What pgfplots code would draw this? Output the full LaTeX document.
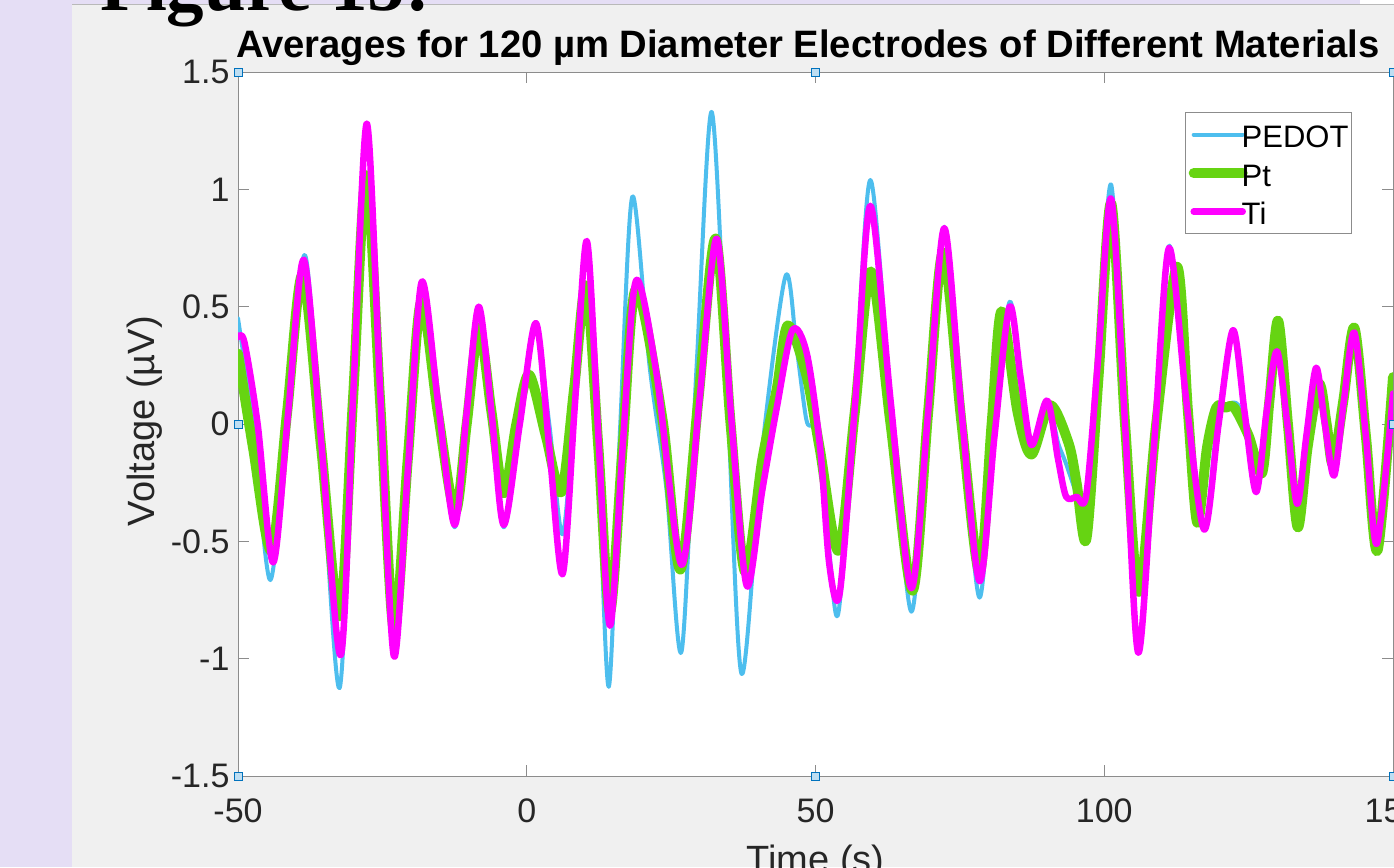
\documentclass[border=0pt]{standalone}
\usepackage{fontspec}
\setmainfont{Liberation Sans}
\newfontfamily\figserif{Liberation Serif}
\usepackage{pgfplots}
\pgfplotsset{compat=1.18}
\definecolor{pedot}{RGB}{77,190,238}
\definecolor{ptc}{RGB}{102,212,18}
\definecolor{tic}{RGB}{255,0,255}
\definecolor{lav}{RGB}{229,222,245}
\definecolor{figgray}{RGB}{240,240,240}
\definecolor{axgray}{RGB}{140,140,140}
\definecolor{tickc}{RGB}{38,38,38}
\definecolor{hdraw}{RGB}{0,114,189}
\definecolor{hfill}{RGB}{190,222,242}
\begin{document}
\begin{tikzpicture}
\useasboundingbox (0pt,0pt) rectangle (1394pt,-867pt);
\clip (0pt,0pt) rectangle (1394pt,-867pt);
\fill[lav] (0pt,0pt) rectangle (1394pt,-867pt);
\fill[white] (1360pt,0pt) rectangle (1394pt,-5pt);
\fill[figgray] (72pt,-5pt) rectangle (1394pt,-867pt);
\draw[gray!55, line width=1pt] (72pt,-5pt) -- (1394pt,-5pt);
\node[anchor=base west, inner sep=0pt, font=\figserif\bfseries\fontsize{75}{80}\selectfont] at (100pt,-11pt) {Figure 15:};
\begin{axis}[
  at={(238pt,-776pt)}, anchor=south west,
  width=1155pt, height=704pt, scale only axis,
  xmin=-50, xmax=150, ymin=-1.5, ymax=1.5,
  axis background/.style={fill=white},
  axis line style={draw=axgray, line width=1pt},
  tick style={draw=axgray, line width=1pt},
  tick align=inside, major tick length=11pt,
  xtick={-50,0,50,100,150}, xticklabels={-50,0,50,100,150},
  ytick={-1.5,-1,-0.5,0,0.5,1,1.5}, yticklabels={-1.5,-1,-0.5,0,0.5,1,1.5},
  ticklabel style={font=\fontsize{34}{40}\selectfont, text=tickc},
  xticklabel style={yshift=-19pt},
  yticklabel style={xshift=-5pt},
  title={Averages for 120 µm Diameter Electrodes of Different Materials},
  title style={font=\bfseries\fontsize{38.2}{44}\selectfont, at={(axis description cs:0.4935,1.0114)}, anchor=base, inner sep=0pt, yshift=0pt},
  xlabel={Time (s)}, ylabel={Voltage (µV)},
  every axis x label/.style={at={(axis description cs:0.5,-0.1364)}, anchor=base, inner sep=0pt, font=\fontsize{38}{44}\selectfont, text=tickc},
  every axis y label/.style={at={(axis description cs:-0.0719,0.504)}, anchor=base, rotate=90, inner sep=0pt, font=\fontsize{38}{44}\selectfont, text=tickc},
  clip mode=individual,
  legend style={at={(axis description cs:0.9645,0.943)}, anchor=north east, draw=axgray, line width=1pt, fill=white,
    font=\fontsize{31}{37}\selectfont, inner xsep=3pt, inner ysep=0pt,
    nodes={inner sep=0pt, text height=35pt, text depth=9pt}, row sep=-5.5pt, column sep=-6pt},
  legend cell align=left,
  legend image code/.code={\path (0pt,0pt) -- (49pt,0pt); \draw[#1, line cap=butt] (5pt,0pt) -- (49pt,0pt);},
]
\addplot[pedot, line width=4pt, smooth, tension=0.5, line join=round, line cap=round] coordinates {
(-50,0.45) (-47.4,0.0) (-44.4,-0.665) (-41.4,0.05) (-38.4,0.72) (-35.5,-0.15) (-32.4,-1.125) (-30.0,0.15) (-27.7,1.27) (-25.4,0.15) (-23.0,-0.99) (-20.6,-0.20) (-18.2,0.60) (-15.4,0.10) (-12.5,-0.44) (-10.4,0.05) (-8.3,0.49) (-6.1,0.05) (-4.0,-0.44) (-1.2,0.0) (1.5,0.42) (3.9,0.0) (6.2,-0.47) (8.3,0.10) (10.4,0.74) (12.3,-0.10) (14.2,-1.12) (16.2,0.0) (18.3,0.97) (21.3,0.24) (24.2,-0.28) (26.8,-0.97) (29.4,0.24) (32.0,1.33) (34.6,0.20) (37.2,-1.065) (40.8,-0.10) (44.8,0.63) (46.7,0.33) (48.4,0.02) (49.5,-0.01) (50.6,-0.08) (52.4,-0.55) (54.0,-0.80) (56.8,0.10) (59.5,1.04) (63.0,0.10) (66.6,-0.80) (69.5,0.05) (72.3,0.84) (75.3,0.05) (78.4,-0.74) (81.0,0.0) (83.6,0.52) (85.5,0.20) (87.4,-0.10) (90.1,0.10) (92.0,-0.08) (93.4,-0.17) (96.2,-0.37) (97.2,-0.40) (99.0,0.30) (101.2,1.02) (103.6,0.0) (105.9,-0.97) (108.6,-0.10) (111.2,0.76) (114.2,0.10) (117.3,-0.44) (119.5,0.0) (120.8,0.07) (122.8,0.09) (124.5,0.02) (126.8,-0.17) (128.3,0.05) (129.9,0.32) (131.7,0.0) (133.4,-0.35) (135.0,-0.05) (136.7,0.24) (138.2,0.0) (139.8,-0.22) (141.5,0.10) (143.3,0.39) (145.3,-0.05) (147.2,-0.50) (150.0,0.14)
};
\addlegendentry{PEDOT}
\addplot[ptc, line width=10pt, smooth, tension=0.5, line join=round, line cap=round] coordinates {
(-50,0.30) (-47.4,-0.10) (-44.2,-0.54) (-41.5,0.05) (-38.8,0.635) (-35.6,-0.10) (-32.4,-0.82) (-30.1,0.10) (-27.8,1.06) (-25.4,0.10) (-23.0,-0.88) (-20.6,-0.15) (-18.3,0.52) (-15.4,0.05) (-12.4,-0.375) (-10.4,0.0) (-8.3,0.41) (-6.1,0.05) (-4.0,-0.295) (-1.8,0.0) (0.4,0.21) (3.3,-0.05) (6.0,-0.29) (8.2,0.15) (10.3,0.59) (12.4,-0.10) (14.4,-0.80) (16.6,-0.10) (18.9,0.575) (23.5,0.02) (26.6,-0.62) (29.7,0.10) (32.7,0.79) (35.3,0.0) (37.8,-0.63) (40.8,-0.15) (43.3,0.15) (45.2,0.42) (48.4,0.21) (50.7,-0.10) (54.0,-0.54) (56.8,0.05) (59.6,0.65) (63.0,0.0) (66.8,-0.71) (69.5,0.05) (72.1,0.73) (75.3,0.0) (78.4,-0.63) (80.5,0.0) (82.2,0.48) (85.0,0.05) (87.4,-0.13) (90.6,0.08) (93.8,-0.08) (95.2,-0.25) (96.9,-0.49) (99.0,0.20) (101.2,0.94) (103.6,0.0) (106.0,-0.715) (109.0,0.0) (112.6,0.67) (114.5,0.05) (116.1,-0.42) (117.8,-0.10) (119.4,0.07) (121.0,0.07) (122.5,0.07) (125.0,-0.05) (127.3,-0.21) (128.6,0.10) (130.1,0.44) (131.8,0.0) (133.5,-0.44) (135.2,-0.10) (137.2,0.17) (138.5,0.0) (139.6,-0.17) (141.4,0.10) (143.3,0.41) (145.3,-0.05) (147.3,-0.54) (150.0,0.20)
};
\addlegendentry{Pt}
\addplot[tic, line width=6.5pt, smooth, tension=0.5, line join=round, line cap=round] coordinates {
(-50,0.37) (-48.9,0.35) (-46.6,0.0) (-43.9,-0.59) (-41.3,0.05) (-38.6,0.70) (-35.5,-0.10) (-32.2,-0.985) (-30.0,0.15) (-27.7,1.28) (-25.4,0.15) (-23.0,-0.99) (-20.6,-0.20) (-18.2,0.605) (-15.4,0.10) (-12.5,-0.43) (-10.4,0.05) (-8.3,0.50) (-6.1,0.05) (-4.0,-0.43) (-1.2,0.0) (1.6,0.43) (3.9,-0.10) (6.2,-0.64) (8.3,0.07) (10.4,0.78) (12.4,-0.05) (14.4,-0.86) (16.6,-0.10) (18.9,0.61) (22.5,0.21) (26.8,-0.60) (29.9,0.10) (32.9,0.79) (35.5,0.0) (38.1,-0.69) (40.8,-0.28) (43.3,0.07) (46.0,0.40) (48.5,0.30) (50.8,-0.10) (52.4,-0.60) (54.2,-0.72) (56.9,0.10) (59.5,0.93) (63.0,0.10) (66.6,-0.70) (69.5,0.05) (72.3,0.835) (75.3,0.05) (78.4,-0.67) (81.0,-0.05) (83.6,0.50) (85.5,0.20) (87.4,-0.09) (90.1,0.10) (92.0,-0.15) (93.4,-0.31) (95.2,-0.31) (96.9,-0.30) (99.0,0.30) (101.2,0.96) (103.6,0.0) (105.9,-0.975) (108.6,-0.10) (111.2,0.75) (114.2,0.10) (117.3,-0.45) (119.8,0.0) (122.3,0.40) (124.3,0.05) (126.3,-0.29) (128.1,0.05) (129.9,0.31) (131.7,0.0) (133.4,-0.34) (135.0,-0.05) (136.7,0.24) (138.2,0.0) (139.8,-0.22) (141.5,0.10) (143.3,0.39) (145.3,-0.05) (147.2,-0.51) (150.0,0.13)
};
\addlegendentry{Ti}
\addplot[only marks, mark=square*, mark size=4pt, mark options={draw=hdraw, fill=hfill, line width=1pt}, forget plot] coordinates {
(-50,1.5) (50,1.5) (150,1.5) (-50,0) (150,0) (-50,-1.5) (50,-1.5) (150,-1.5)
};
\end{axis}
\end{tikzpicture}
\end{document}
